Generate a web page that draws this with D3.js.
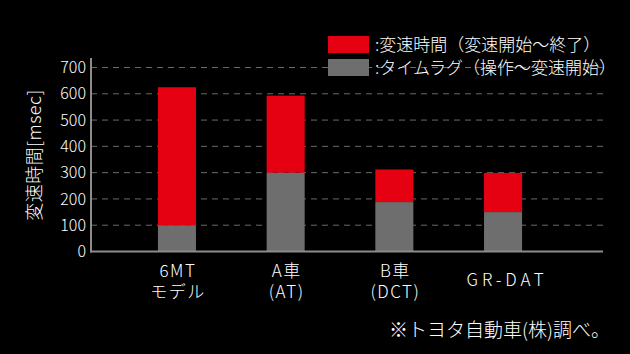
<!DOCTYPE html>
<html>
<head>
<meta charset="utf-8">
<script src="https://cdn.jsdelivr.net/npm/d3@7"></script>
<style>
  body { margin: 0; background: #000; }
  svg { display: block; font-family: "Noto Sans CJK JP", "Noto Sans", sans-serif; font-weight: 300; }
</style>
</head>
<body>
<div id="chart"></div>
<script>
// data
const categories = ['6MT', 'A車', 'B車', 'GR-DAT'];
const categoryLines = [['6MT', 'モデル'], ['A車', '(AT)'], ['B車', '(DCT)'], ['GR-DAT']];
const lagValues = [100, 300, 188, 150];      // タイムラグ
const shiftValues = [525, 293, 124, 149];    // 変速時間 (stacked on top)
const yTicks = [0, 100, 200, 300, 400, 500, 600, 700];
const seriesNames = [':変速時間（変速開始〜終了）', ':タイムラグ（操作〜変速開始）'];
const seriesColors = ['#e50012', '#6e6e6e'];

const width = 630, height = 354;
const margin = { left: 91, right: 27, top: 58, bottom: 103 };

const svg = d3.select('#chart').append('svg')
  .attr('width', width)
  .attr('height', height);

svg.append('rect')
  .attr('width', width)
  .attr('height', height)
  .attr('fill', '#000');

const x = d3.scaleBand()
  .domain(categories)
  .range([122.6, 557.4])
  .paddingInner(0.65)
  .paddingOuter(0.325);

const y = d3.scaleLinear()
  .domain([0, 700])
  .range([251.5, 67.5]);

// gridlines
svg.append('g')
  .selectAll('line')
  .data(yTicks.filter(d => d > 0))
  .enter().append('line')
    .attr('x1', margin.left)
    .attr('x2', width - margin.right)
    .attr('y1', d => y(d))
    .attr('y2', d => y(d))
    .attr('stroke', '#6a6a6a')
    .attr('stroke-width', 1)
    .attr('stroke-dasharray', '6,5');

// stacked bars
const stackData = categories.map((c, i) => ({ cat: c, lag: lagValues[i], shift: shiftValues[i] }));
const stack = d3.stack().keys(['lag', 'shift'])(stackData);
const colorByKey = { lag: seriesColors[1], shift: seriesColors[0] };

svg.append('g')
  .selectAll('g')
  .data(stack)
  .enter().append('g')
    .attr('fill', d => colorByKey[d.key])
  .selectAll('rect')
  .data(d => d)
  .enter().append('rect')
    .attr('x', d => x(d.data.cat))
    .attr('width', x.bandwidth())
    .attr('y', d => y(d[1]))
    .attr('height', d => y(d[0]) - y(d[1]));

// y axis
const yAxis = svg.append('g')
  .attr('transform', `translate(${margin.left},0)`)
  .call(d3.axisLeft(y).tickValues(yTicks).tickSize(0).tickPadding(5));
yAxis.select('.domain').remove();
yAxis.selectAll('text')
  .attr('fill', '#fff')
  .style('font-size', '16px')
  .style('font-family', '"Noto Sans CJK JP", sans-serif');

svg.append('line')
  .attr('x1', margin.left).attr('x2', margin.left)
  .attr('y1', 58).attr('y2', y(0) + 1)
  .attr('stroke', '#8c8c8c').attr('stroke-width', 2);
svg.append('line')
  .attr('x1', margin.left - 1).attr('x2', width - margin.right)
  .attr('y1', y(0)).attr('y2', y(0))
  .attr('stroke', '#8c8c8c').attr('stroke-width', 2);

// y label
svg.append('text')
  .attr('transform', `translate(41,155) rotate(-90)`)
  .attr('text-anchor', 'middle')
  .attr('fill', '#fff')
  .style('font-size', '18px')
  .style('letter-spacing', '0.5px')
  .text('変速時間[msec]');

// category labels, one text per line
const catGroups = svg.append('g')
  .selectAll('g')
  .data(categoryLines)
  .enter().append('g')
    .attr('transform', (d, i) => `translate(${x(categories[i]) + x.bandwidth() / 2},0)`);
catGroups.selectAll('text')
  .data(d => d.map((t, j) => ({ t, j, n: d.length })))
  .enter().append('text')
    .attr('text-anchor', 'middle')
    .attr('x', d => d.n === 1 ? 4 : 1)
    .attr('fill', '#fff')
    .style('font-size', '17px')
    .style('letter-spacing', d => d.n === 1 ? '4px' : '1.5px')
    .attr('y', d => d.n === 1 ? 286 : 277 + d.j * 21)
    .text(d => d.t);

// legend
const legend = svg.append('g')
  .selectAll('g')
  .data(seriesNames)
  .enter().append('g')
    .attr('transform', (d, i) => `translate(328,${36 + i * 23})`);
legend.append('rect')
  .attr('width', 41)
  .attr('height', 17)
  .attr('fill', (d, i) => seriesColors[i]);
legend.append('text')
  .attr('x', 47)
  .attr('y', 15)
  .attr('fill', '#fff')
  .style('font-size', '17px')
  .text(d => d);

// footnote
svg.append('text')
  .attr('x', 610)
  .attr('y', 337)
  .attr('text-anchor', 'end')
  .attr('fill', '#fff')
  .style('font-size', '19px')
  .text('※トヨタ自動車(株)調べ。');
</script>
</body>
</html>
